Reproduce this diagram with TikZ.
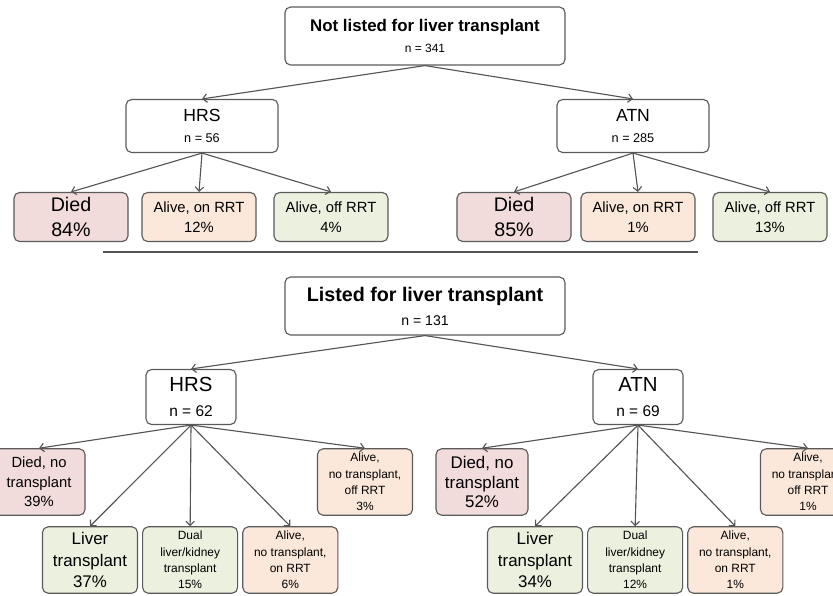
\documentclass[tikz,border=0pt]{standalone}
\usepackage{fontspec}
\setmainfont{Liberation Sans}
\usetikzlibrary{positioning, arrows.meta}
\definecolor{rose}{HTML}{F2DCDB}
\definecolor{peche}{HTML}{FCE8DA}
\definecolor{vert}{HTML}{EBF0DF}
\definecolor{bord}{HTML}{5A5A5A}
\definecolor{fleche}{HTML}{555555}
\newcommand{\taille}[2]{\fontsize{#1}{#2}\selectfont}
\begin{document}
\begin{tikzpicture}[x=0.025cm, y=-0.025cm,
  boite/.style={draw=bord, line width=0.8pt, rounded corners=4pt, align=center, inner sep=0pt},
  petit/.style={boite, minimum width=2.85cm, minimum height=1.225cm},
  moyen/.style={boite, minimum width=2.375cm, minimum height=1.66cm},
  fl/.style={-{Straight Barb[length=3pt, width=6pt]}, draw=fleche, line width=0.8pt}]
\useasboundingbox (0,0) rectangle (833,595);
% pas inscrits
\node[boite, minimum width=7cm, minimum height=1.45cm, font=\taille{12}{14}] (nl) at (425,36)
  {\textbf{Not listed for liver transplant}\\[1pt]\taille{8.5}{10}n = 341};
\foreach \p/\x/\t/\n in {h/202/HRS/56, a/633/ATN/285}
  {\node[boite, minimum width=3.8cm, minimum height=1.325cm, font=\taille{12.5}{14}] (\p0) at (\x,126)
     {\t\\[1pt]\taille{9}{11}n = \n};
   \draw[fl] (nl.south) -- (\p0.north);};
\foreach \p/\xa/\xb/\xc/\d/\on/\off in {h/71/199/331/84/12/4, a/514/638/770/85/1/13}
  {\node[petit, fill=rose, font=\taille{14}{18}] (\p d) at (\xa,217) {Died\\\d\%};
   \node[petit, fill=peche, font=\taille{10.5}{14}] (\p on) at (\xb,217) {Alive, on RRT\\\on\%};
   \node[petit, fill=vert, font=\taille{10.5}{14}] (\p off) at (\xc,217) {Alive, off RRT\\\off\%};
   \foreach \f in {d, on, off}
     \draw[fl] (\p0.south) -- (\p\f.north);};
\draw[draw=fleche, line width=1.1pt] (103,252) -- (698,252);
% inscrits
\node[boite, minimum width=7cm, minimum height=1.45cm, font=\taille{14}{16}] (li) at (425,306)
  {\textbf{Listed for liver transplant}\\[1pt]\taille{10}{12}n = 131};
\foreach \p/\x/\t/\n/\xd/\xo/\xl/\fd/\d/\l/\du/\on/\off in
  {h/191/HRS/62/39/365/90/10.5/39/37/15/6/3, a/638/ATN/69/482/808/535/12/52/34/12/1/1}
  {\node[boite, minimum width=2.25cm, minimum height=1.375cm, font=\taille{14.5}{16}] (\p1) at (\x,397)
     {\t\\[2pt]\taille{11}{13}n = \n};
   \draw[fl] (li.south) -- (\p1.north);
   \node[moyen, fill=rose, minimum width=2.3cm, font=\taille{\fd}{14}] (\p dn) at (\xd,482) {Died, no\\transplant\\\d\%};
   \node[moyen, fill=peche, font=\taille{8.5}{11.7}] (\p off1) at (\xo,482) {Alive,\\no transplant,\\off RRT\\\off\%};
   \node[moyen, fill=vert, font=\taille{12}{15.3}] (\p lt) at (\xl,560) {Liver\\transplant\\\l\%};
   \node[moyen, fill=vert, right=0.1cm of \p lt, font=\taille{8.5}{11.7}] (\p du) {Dual\\liver/kidney\\transplant\\\du\%};
   \node[moyen, fill=peche, right=0.1cm of \p du, font=\taille{8.5}{11.7}] (\p on1) {Alive,\\no transplant,\\on RRT\\\on\%};
   \foreach \f in {dn, off1, lt, du, on1}
     \draw[fl] (\p1.south) -- (\p\f.north);};
\end{tikzpicture}
\end{document}
